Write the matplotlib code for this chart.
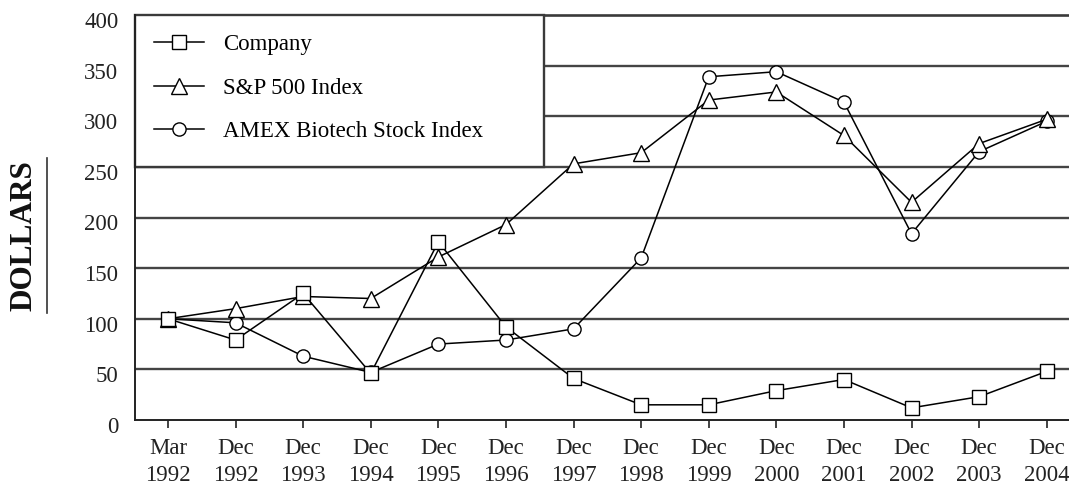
import matplotlib
matplotlib.use("Agg")
import matplotlib.pyplot as plt
from matplotlib.lines import Line2D
from matplotlib.patches import Rectangle
from matplotlib.transforms import ScaledTranslation

plt.rcParams['font.family'] = ['Liberation Serif', 'DejaVu Serif']

# Period-end labels
months = ["Mar", "Dec", "Dec", "Dec", "Dec", "Dec", "Dec", "Dec",
          "Dec", "Dec", "Dec", "Dec", "Dec", "Dec"]
years = ["1992", "1992", "1993", "1994", "1995", "1996", "1997", "1998",
         "1999", "2000", "2001", "2002", "2003", "2004"]

# Value of $100 invested in March 1992
company = [100, 79, 125, 46, 176, 92, 41, 15, 15, 29, 40, 12, 23, 48]
sp500 = [100, 110, 122, 120, 161, 193, 253, 264, 316, 324, 281, 215, 273, 297]
amex_biotech = [100, 96, 63, 47, 75, 79, 90, 160, 339, 344, 314, 184, 265, 295]

series_names = ["Company", "S&P 500 Index", "AMEX Biotech Stock Index"]
y_ticks = [0, 50, 100, 150, 200, 250, 300, 350, 400]

FS = 16.5

W, H = 1069, 484
fig = plt.figure(figsize=(W / 100, H / 100), dpi=100)
left_px, right_px, top_px, bottom_px = 135, 1069, 15, 420
ax = fig.add_axes([left_px / W, 1 - bottom_px / H,
                   (right_px - left_px) / W, (bottom_px - top_px) / H])

x = list(range(len(years)))
ax.set_xlim(-0.488, 13.33)
ax.set_ylim(0, 400)

legend_right = 0.438  # axes fraction of legend box right edge

# horizontal rules
grid_kw = dict(color="#444444", lw=1.7, zorder=1)
for v in y_ticks[1:-1]:
    if v > 250:
        ax.axhline(v, xmin=legend_right, xmax=1, **grid_kw)
    else:
        ax.axhline(v, **grid_kw)
ax.axhline(400, color="#3a3a3a", lw=1.9, zorder=1, clip_on=False)

# legend frame
ax.add_patch(Rectangle((0, 250), legend_right, 150,
                       transform=ax.get_yaxis_transform(),
                       facecolor="white", edgecolor="#3a3a3a", lw=1.7,
                       zorder=2, clip_on=False))

line_kw = dict(color="black", lw=1.1, markerfacecolor="white",
               markeredgecolor="black", markeredgewidth=1.0)
h3, = ax.plot(x, amex_biotech, marker="o", markersize=9.5, zorder=3, **line_kw)
h2, = ax.plot(x, sp500, marker="^", markersize=11.5, zorder=4, **line_kw)
h1, = ax.plot(x, company, marker="s", markersize=10, zorder=5, **line_kw)

leg = ax.legend([h1, h2, h3], series_names, loc="upper left",
                bbox_to_anchor=(0.0203, 0.952), borderaxespad=0, borderpad=0,
                frameon=False, fontsize=FS, handlelength=2.18,
                handletextpad=0.83, labelspacing=0.96)
leg.set_zorder(6)

# spines and ticks
for s in ("top", "right"):
    ax.spines[s].set_visible(False)
for s in ("left", "bottom"):
    ax.spines[s].set_color("#222222")
    ax.spines[s].set_linewidth(1.4)
    ax.spines[s].set_zorder(6)

ax.set_xticks(x)
ax.set_xticklabels([f"{m}\n{y}" for m, y in zip(months, years)],
                   linespacing=1.36)
ax.set_yticks(y_ticks)
ax.set_yticklabels([str(v) for v in y_ticks])
ax.tick_params(axis="x", direction="out", length=6, width=1.2,
               labelsize=FS, pad=7, colors="#222222")
ax.tick_params(axis="y", length=0, labelsize=FS, pad=12, colors="#222222")
shift = ScaledTranslation(0, -5 / 100, fig.dpi_scale_trans)
for lab in ax.get_yticklabels():
    lab.set_transform(lab.get_transform() + shift)

# vertical axis title with its rule
fig.text(23.5 / W, 1 - 235.5 / H, "DOLLARS", rotation=90, fontsize=22.5,
         fontweight="bold", ha="center", va="center", color="#111111")
fig.add_artist(Line2D([47 / W, 47 / W], [1 - 158 / H, 1 - 313 / H],
                      transform=fig.transFigure, color="#333333", lw=1.2))

fig.savefig("out.png", dpi=100)
